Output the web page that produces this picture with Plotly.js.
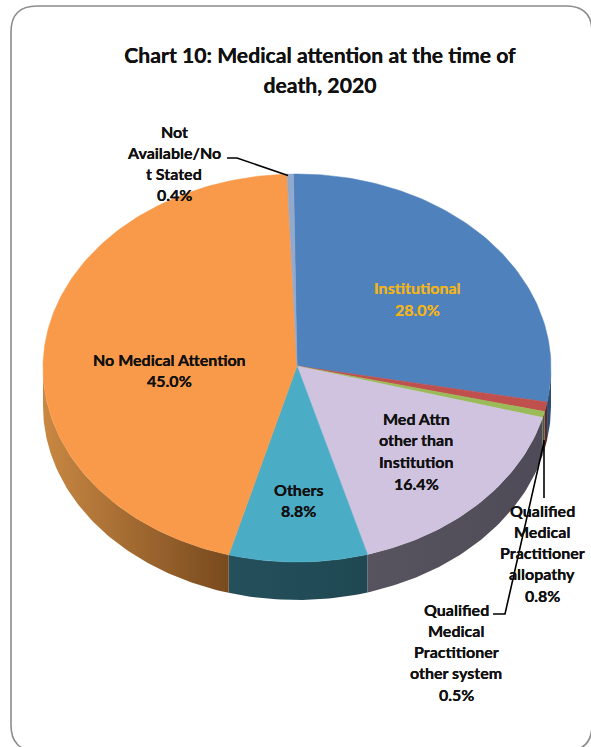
<!DOCTYPE html>
<html><head><meta charset="utf-8">
<script src="https://cdn.plot.ly/plotly-3.0.1.min.js"></script>
<style>html,body{margin:0;padding:0;background:#fff;overflow:hidden}</style></head>
<body><div id="chart" style="width:591px;height:747px"></div>
<script>
const categories = ["Institutional","Qualified Medical Practitioner allopathy","Qualified Medical Practitioner other system","Med Attn other than Institution","Others","No Medical Attention","Not Available/Not Stated"];
const values = [28.0,0.8,0.5,16.4,8.8,45.0,0.4];
const topColors = ["#4F81BD","#C0504D","#9BBB59","#CFC3DF","#4BACC6","#F99A4A","#93A9CC"];
const sideLeft = ["#2F4D72","#5A2A28","#4A5A2A","#58545F","#24505C","#C98843","#556680"];
const sideRight = ["#2F4D72","#5A2A28","#4A5A2A","#4E4A57","#1F4852","#784A1E","#556680"];
const labelLines = [["Institutional"],["Qualified","Medical","Practitioner","allopathy"],["Qualified","Medical","Practitioner","other system"],["Med Attn","other than","Institution"],["Others"],["No Medical Attention"],["Not","Available/No","t Stated"]];
const labelX = [417,542,456,416,298,169,174];
const labelY = [287,510,609,418,489,359,131];
const labelStep = [22,21.3,21.3,21.8,21,21,21.3];
const labelColors = ["#F2B41B","#111","#111","#111","#111","#111","#111"];
const leaders = [
  {x:[544,544],y:[498,440]},
  {x:[493,505,544],y:[614,614,442]},
  {x:[227,237,288],y:[158,158,175.5]}
];
const titleLines = ["Chart 10: Medical attention at the time of","death, 2020"];
const cx=297, cy=368, apexY=366, rx=254, ry=194, depth=38, startDeg=-0.8;

const rad=d=>d*Math.PI/180;
const px=t=>cx+rx*Math.sin(rad(t));
const py=(t,dz=0)=>cy-ry*Math.cos(rad(t))+dz;
function arc(a,b,dz=0){const n=Math.max(2,Math.ceil(Math.abs(b-a)));const X=[],Y=[];
  for(let i=0;i<=n;i++){const t=a+(b-a)*i/n;X.push(px(t));Y.push(py(t,dz));}return{X,Y};}
const total=values.reduce((s,v)=>s+v,0);
let acc=startDeg; const spans=values.map(v=>{const a=acc;acc+=v/total*360;return[a,acc];});
const traces=[];
spans.forEach(([a,b],i)=>{
  const s=Math.max(a,90), e=Math.min(b,270);
  if(e<=s) return;
  const t=arc(s,e), u=arc(e,s,depth);
  traces.push({type:'scatter',mode:'lines',x:t.X.concat(u.X),y:t.Y.concat(u.Y),fill:'toself',
    fillgradient:{type:'horizontal',colorscale:[[0,sideLeft[i]],[1,sideRight[i]]]},
    line:{width:0},hoverinfo:'skip',showlegend:false});
});
spans.forEach(([a,b],i)=>{
  const t=arc(a,b);
  traces.push({type:'scatter',mode:'lines',name:categories[i],x:[cx].concat(t.X,[cx]),y:[apexY].concat(t.Y,[apexY]),
    fill:'toself',fillcolor:topColors[i],line:{width:0.5,color:topColors[i]},hoverinfo:'name',showlegend:false});
});
leaders.forEach(l=>traces.push({type:'scatter',mode:'lines',x:l.x,y:l.y,line:{color:'#000',width:1.6},hoverinfo:'skip',showlegend:false}));
const annotations=[];
labelLines.forEach((lines,i)=>{
  lines.concat([values[i].toFixed(1)+'%']).forEach((tx,k)=>annotations.push({
    x:labelX[i],y:labelY[i]+k*labelStep[i],text:tx,showarrow:false,xanchor:'center',yanchor:'middle',
    font:{family:'Lato, "Open Sans", sans-serif',size:16,color:labelColors[i],weight:700,shadow:'0 0 0.5px '+labelColors[i]}}));
});
const R=26,L=11,T=6,Rt=592,B=751;
const layout={width:591,height:747,margin:{l:0,r:0,t:0,b:0},paper_bgcolor:'#fff',plot_bgcolor:'#fff',showlegend:false,
  title:{text:titleLines.map(s=>'<span style="font-size:21.2px">'+s+'</span>').join('<br>'),x:320/591,xanchor:'center',y:1-63/747,yanchor:'middle',
    font:{family:'Lato, "Open Sans", sans-serif',size:23,color:'#111',weight:700,shadow:'0 0 0.5px #111'}},
  xaxis:{range:[0,591],visible:false,fixedrange:true},
  yaxis:{range:[747,0],visible:false,fixedrange:true},
  annotations,
  shapes:[{type:'path',xref:'x',yref:'y',layer:'below',line:{color:'#8C8C8C',width:1.6},
    path:`M${L+R},${T} L${Rt-R},${T} Q${Rt},${T} ${Rt},${T+R} L${Rt},${B-R} Q${Rt},${B} ${Rt-R},${B} L${L+R},${B} Q${L},${B} ${L},${B-R} L${L},${T+R} Q${L},${T} ${L+R},${T} Z`}]};
Plotly.newPlot('chart',traces,layout,{displayModeBar:false});
</script></body></html>
